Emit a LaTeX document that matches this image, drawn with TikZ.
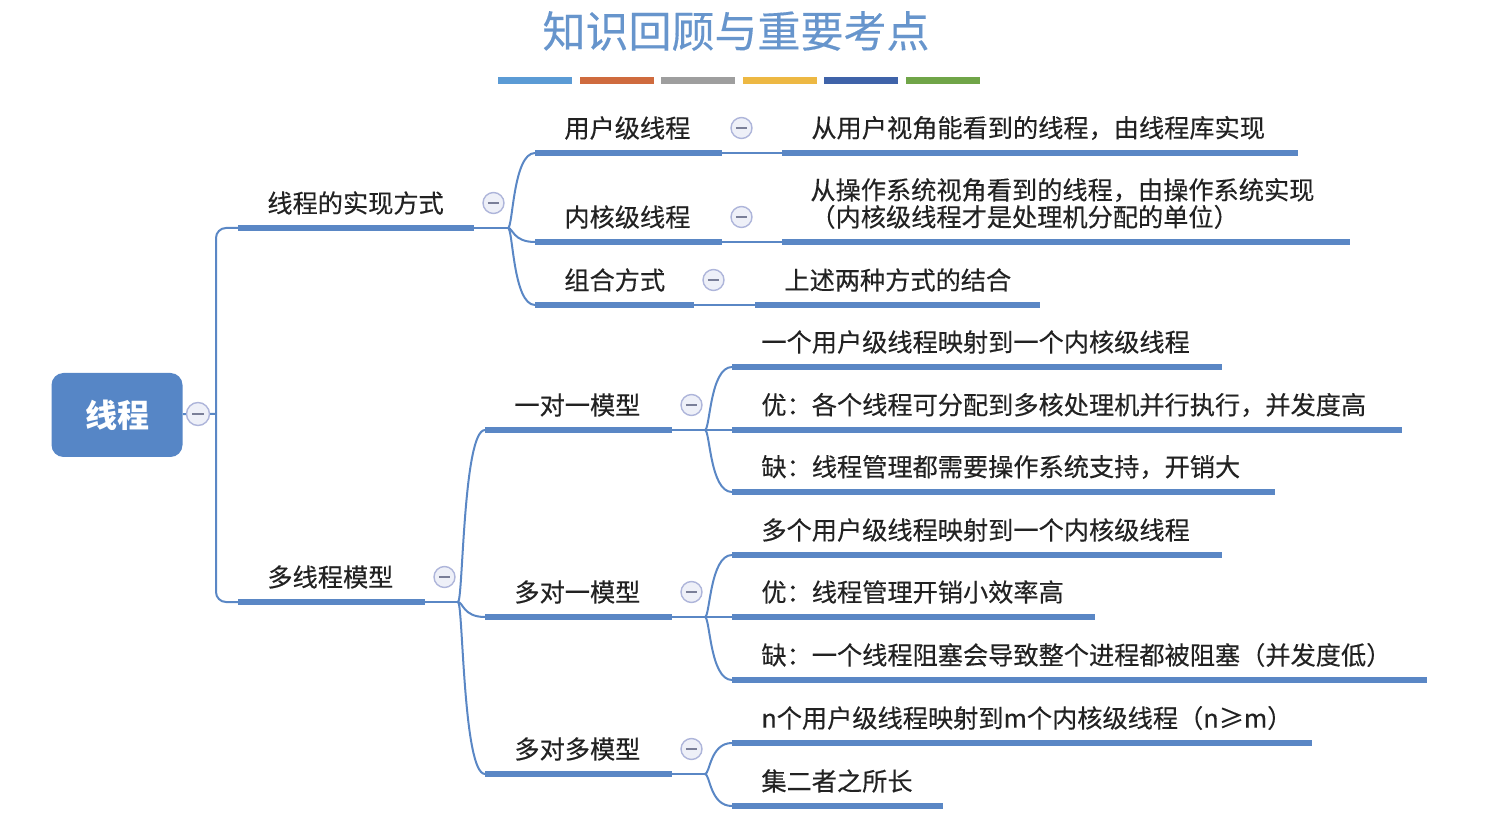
\documentclass[tikz,border=0pt]{standalone}
\usepackage{fontspec}
\setmainfont{Noto Sans CJK SC}
\newfontfamily\inkfont{Noto Sans CJK SC}[FakeBold=0.3]
\usepackage{tikz}
\usetikzlibrary{positioning}
\usepackage{xcolor}
\definecolor{mapblue}{HTML}{5A87C5}
\definecolor{rootblue}{HTML}{5686C6}
\definecolor{titleblue}{HTML}{6795CC}
\definecolor{mapink}{HTML}{222222}
\definecolor{foldrim}{HTML}{AEB5DA}
\definecolor{foldbg}{HTML}{EEF0F8}
\definecolor{barA}{HTML}{5B9BD5}
\definecolor{barB}{HTML}{CF6B3E}
\definecolor{barC}{HTML}{9E9E9E}
\definecolor{barD}{HTML}{EDB843}
\definecolor{barE}{HTML}{3F63A9}
\definecolor{barF}{HTML}{70A548}

\begin{document}
\begin{tikzpicture}[x=0.5pt,y=-0.5pt,
    uline/.style={line width=2.75pt, mapblue},
    link/.style={line width=1pt, mapblue},
    lbl/.style={anchor=west, inner sep=0pt, text=mapink, font=\inkfont\fontsize{12.6}{13.5}\selectfont},
    root/.style={rounded corners=6pt, fill=rootblue, text=white, font=\fontsize{16}{16}\selectfont\bfseries,
        minimum width=65.5pt, minimum height=42pt},
    fold/.style={circle, draw=foldrim, fill=foldbg, line width=0.7pt, minimum size=10.5pt, inner sep=0pt,
        path picture={\draw[foldrim!70!black, line width=0.9pt]
            ([xshift=-2.8pt]path picture bounding box.center) -- ([xshift=2.8pt]path picture bounding box.center);}}]
    \useasboundingbox (0,0) rectangle (1509,817);

    % title and colour bars
    \node[font=\inkfont\fontsize{21.5}{21.5}\selectfont, text=titleblue] (title) at (736,31) {知识回顾与重要考点};
    \foreach \c [count=\i from 0] in {barA,barB,barC,barD,barE,barF}
        \fill[\c] (498+\i*81.6,77) rectangle ++(74,7);

    % root
    \node[root] (thread) at (117,415) {线程};
    \node[fold, minimum size=11.5pt] (thread-f) at (198,414) {};
    \coordinate (thread-j) at (216,414);

    % topics: name / line start / line end / line y / text
    \foreach \n/\xa/\xb/\y/\t in {
        impl/238/474/228/线程的实现方式,
        model/238/425/602/多线程模型,
        ult/535/722/153/用户级线程,
        klt/535/722/242/内核级线程,
        combo/535/694/305/组合方式,
        one/485/672/430/一对一模型,
        many/485/672/617/多对一模型,
        mm/485/672/774/多对多模型,
        ult-d/782/1298/153/从用户视角能看到的线程，由线程库实现,
        combo-d/755/1040/305/上述两种方式的结合,
        one-a/732/1222/367/一个用户级线程映射到一个内核级线程,
        one-b/732/1402/430/优：各个线程可分配到多核处理机并行执行，并发度高,
        one-c/732/1275/492/缺：线程管理都需要操作系统支持，开销大,
        many-a/732/1222/555/多个用户级线程映射到一个内核级线程,
        many-b/732/1095/617/优：线程管理开销小效率高,
        many-c/732/1427/680/缺：一个线程阻塞会导致整个进程都被阻塞（并发度低）,
        mm-a/732/1312/743/n个用户级线程映射到m个内核级线程（n≥m）,
        mm-b/732/943/806/集二者之所长}
    {
        \coordinate (\n-l) at (\xa,\y);
        \coordinate (\n-r) at (\xb,\y);
        \draw[uline] (\n-l) -- (\n-r);
        \node[lbl] (\n) at (\xa+29,\y-25) {\t};
    }
    % two-line leaf
    \coordinate (klt-d-l) at (782,242);
    \coordinate (klt-d-r) at (1350,242);
    \draw[uline] (klt-d-l) -- (klt-d-r);
    \node[lbl, align=left] (klt-d) at (810,203.5) {从操作系统视角看到的线程，由操作系统实现\\（内核级线程才是处理机分配的单位）};

    % connectors
    \draw[link] (thread) -- (thread-f) -- (thread-j);
    \draw[link, rounded corners=5pt] (impl-l) -| (thread-j) |- (model-l);
    \coordinate (impl-j) at (508,228);
    \coordinate (model-j) at (458,602);
    \coordinate (one-j) at (705,430);
    \coordinate (many-j) at (705,617);
    \coordinate (mm-j) at (705,774);
    \foreach \p in {impl,model,one,many,mm}
        \draw[link] (\p-r) -- (\p-j);
    \foreach \p/\c in {impl/ult,impl/klt,impl/combo,model/one,model/many,model/mm,
                       one/one-a,one/one-b,one/one-c,many/many-a,many/many-b,many/many-c,mm/mm-a,mm/mm-b}
        \draw[link] (\p-j) .. controls ([xshift=2.5pt]\p-j) and ([xshift=-11pt]\c-l) .. (\c-l);
    \foreach \p in {ult,klt,combo}
        \draw[link] (\p-r) -- (\p-d-l);

    % fold markers
    \foreach \n in {impl,model,ult,klt,combo,one,many,mm}
        \node[fold] (\n-f) at ([xshift=9.75pt,yshift=12.5pt]\n-r) {};
\end{tikzpicture}
\end{document}
